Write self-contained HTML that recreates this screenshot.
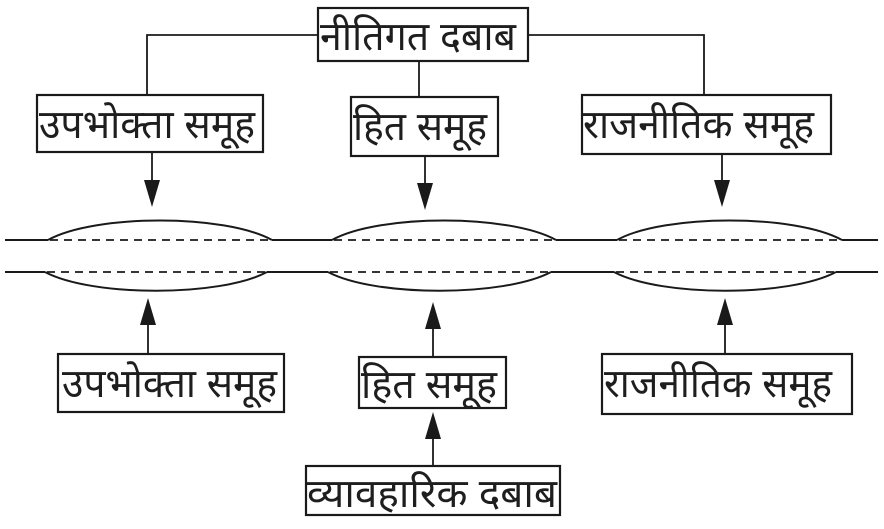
<!DOCTYPE html>
<html>
<head>
<meta charset="utf-8">
<style>
html,body{margin:0;padding:0;background:#fff;}
svg{display:block;}
text{font-family:"Liberation Sans","Noto Sans CJK SC",sans-serif;font-size:40px;fill:#1e1e1e;}
</style>
</head>
<body>
<svg width="884" height="529" viewBox="0 0 884 529" xmlns="http://www.w3.org/2000/svg">
<g fill="none" stroke="#1a1a1a">
<!-- top connectors -->
<polyline points="318,35 147,35 147,95" stroke-width="1.8"/>
<polyline points="528,35 704,35 704,95" stroke-width="1.8"/>
<line x1="419" y1="61" x2="419" y2="97" stroke-width="1.8"/>
<!-- boxes -->
<rect x="318" y="8" width="210" height="53" stroke-width="2.2"/>
<rect x="37" y="95" width="226" height="57" stroke-width="2.2"/>
<rect x="351" y="97" width="147" height="59" stroke-width="2.2"/>
<rect x="582" y="95" width="249" height="59" stroke-width="2.2"/>
<rect x="58" y="354" width="226" height="58" stroke-width="2.2"/>
<rect x="359" y="357" width="147" height="51" stroke-width="2.2"/>
<rect x="602" y="354" width="250" height="60" stroke-width="2.2"/>
<rect x="306" y="466" width="254" height="49" stroke-width="2.2"/>
<!-- arrow shafts -->
<line x1="152" y1="152" x2="152" y2="185" stroke-width="1.8"/>
<line x1="425" y1="156" x2="425" y2="188" stroke-width="1.8"/>
<line x1="722" y1="154" x2="722" y2="185" stroke-width="1.8"/>
<line x1="148" y1="354" x2="148" y2="322" stroke-width="1.8"/>
<line x1="433" y1="357" x2="433" y2="325" stroke-width="1.8"/>
<line x1="725" y1="354" x2="725" y2="322" stroke-width="1.8"/>
<line x1="433" y1="466" x2="433" y2="435" stroke-width="1.8"/>
<!-- main lines -->
<g stroke-width="2">
<line x1="5" y1="240" x2="48" y2="240"/>
<line x1="272" y1="240" x2="332" y2="240"/>
<line x1="556" y1="240" x2="617" y2="240"/>
<line x1="842" y1="240" x2="878" y2="240"/>
<line x1="5" y1="272" x2="45" y2="272"/>
<line x1="267" y1="272" x2="328" y2="272"/>
<line x1="551" y1="272" x2="614" y2="272"/>
<line x1="836" y1="272" x2="878" y2="272"/>
<path d="M48,240 C95,214 225,214 272,240"/>
<path d="M332,240 C379,214 509,214 556,240"/>
<path d="M617,240 C664,214 795,214 842,240"/>
<path d="M45,272 C92,297 220,297 267,272"/>
<path d="M328,272 C375,297 504,297 551,272"/>
<path d="M614,272 C661,297 789,297 836,272"/>
</g>
<g stroke-width="1.8" stroke-dasharray="8,6">
<line x1="50" y1="240" x2="272" y2="240"/>
<line x1="334" y1="240" x2="556" y2="240"/>
<line x1="619" y1="240" x2="842" y2="240"/>
<line x1="47" y1="272" x2="267" y2="272"/>
<line x1="330" y1="272" x2="551" y2="272"/>
<line x1="616" y1="272" x2="836" y2="272"/>
</g>
</g>
<!-- arrowheads -->
<g fill="#1a1a1a">
<polygon points="144,180 160,180 152,207"/>
<polygon points="417,183 433,183 425,210"/>
<polygon points="714,180 730,180 722,207"/>
<polygon points="140,325 156,325 148,298"/>
<polygon points="425,329 441,329 433,302"/>
<polygon points="717,325 733,325 725,298"/>
<polygon points="425,439 441,439 433,412"/>
</g>
<!-- labels -->
<text x="320" y="50" textLength="196" lengthAdjust="spacingAndGlyphs">नीतिगत दबाब</text>
<text x="39" y="138" textLength="216" lengthAdjust="spacingAndGlyphs">उपभोक्ता समूह</text>
<text x="353" y="140" textLength="134" lengthAdjust="spacingAndGlyphs">हित समूह</text>
<text x="583" y="138" textLength="231" lengthAdjust="spacingAndGlyphs">राजनीतिक समूह</text>
<text x="62" y="397" textLength="215" lengthAdjust="spacingAndGlyphs">उपभोक्ता समूह</text>
<text x="361" y="398" textLength="136" lengthAdjust="spacingAndGlyphs">हित समूह</text>
<text x="604" y="397" textLength="228" lengthAdjust="spacingAndGlyphs">राजनीतिक समूह</text>
<text x="307" y="507" textLength="250" lengthAdjust="spacingAndGlyphs">व्यावहारिक दबाब</text>
</svg>
</body>
</html>
